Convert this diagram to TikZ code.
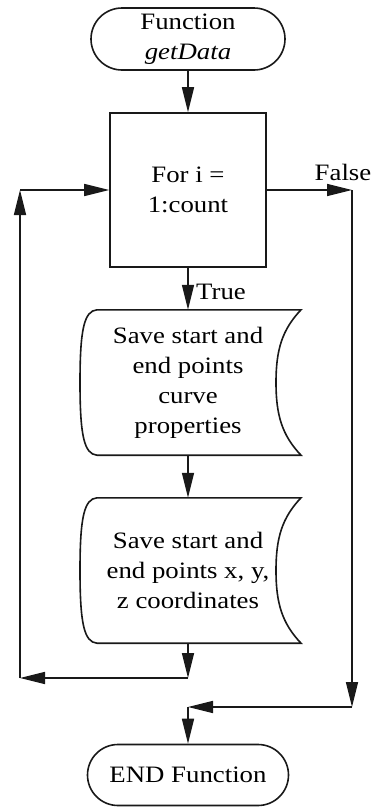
\documentclass[tikz,border=0pt]{standalone}
\usepackage{fontspec}
\setmainfont{Liberation Serif}[FakeStretch=1.14]
\usetikzlibrary{arrows.meta,shapes.misc}

% outline of a "stored data" block around a text node
\newcommand\storedshape[1]{%
  \draw[wire] ([xshift=-91pt]#1.north) -- ([xshift=113pt]#1.north)
    .. controls +(-19,20) and +(0,-32.5) .. ([xshift=88pt]#1.center)
    .. controls +(0,32.5) and +(-19,-20) .. ([xshift=113pt]#1.south)
    -- ([xshift=-91pt]#1.south)
    .. controls +(-13,-1) and +(0,52.5) .. ([xshift=-108pt]#1.center)
    .. controls +(0,-52.5) and +(-13,1) .. ([xshift=-91pt]#1.north)
    -- cycle;}

\begin{document}
\begin{tikzpicture}[x=1pt,y=-1pt,
  every node/.style={font=\fontsize{23.5}{30}\selectfont, align=center, inner sep=0pt},
  wire/.style={line width=1.6pt, draw=black!90},
  arr/.style={wire, -{Triangle[length=25pt,width=12pt]}},
  term/.style={wire, rounded rectangle, minimum height=62pt},
  procbox/.style={wire, rectangle, minimum width=156pt, minimum height=154pt},
  datatext/.style={rectangle, minimum width=170pt, minimum height=145pt}
]
\fill[white] (0,0) rectangle (375,807);
\useasboundingbox (0,0) rectangle (375,807);

% blocks
\node[term, minimum width=194pt] (start) at (188,39) {Function\\\textit{getData}};
\node[procbox] (loop) at (188,190) {For i =\\1:count};
\node[datatext] (d1) at (188,382.5) {Save start and\\end points\\curve\\properties};
\node[datatext] (d2) at (188,570.5) {Save start and\\end points x, y,\\z coordinates};
\node[term, minimum width=201pt, minimum height=61pt] (stop) at (188,775) {END Function};
\storedshape{d1}
\storedshape{d2}

% branch labels
\node[anchor=west] (tl) at (196,292) {True};
\node (fl) at (343,172) {False};

% routing points
\coordinate (bl) at (188,678);
\coordinate (lb) at (20,678);
\coordinate (lt) at (20,190);
\coordinate (rt) at (352,190);
\coordinate (rb) at (352,707);
\coordinate (mj) at (188,707);

% main flow
\draw[arr] (start) -- (loop);
\draw[arr] (loop) -- (d1);
\draw[arr] (d1) -- (d2);

% loop back
\draw[arr] (d2) -- (bl);
\draw[arr] (bl) -- (lb);
\draw[arr] (lb) -- (lt);
\draw[arr] (lt) -- (loop);

% exit
\draw[arr] (loop) -- (rt);
\draw[arr] (rt) -- (rb);
\draw[arr] (rb) -- (mj);
\draw[arr] (mj) -- (stop);
\end{tikzpicture}
\end{document}
